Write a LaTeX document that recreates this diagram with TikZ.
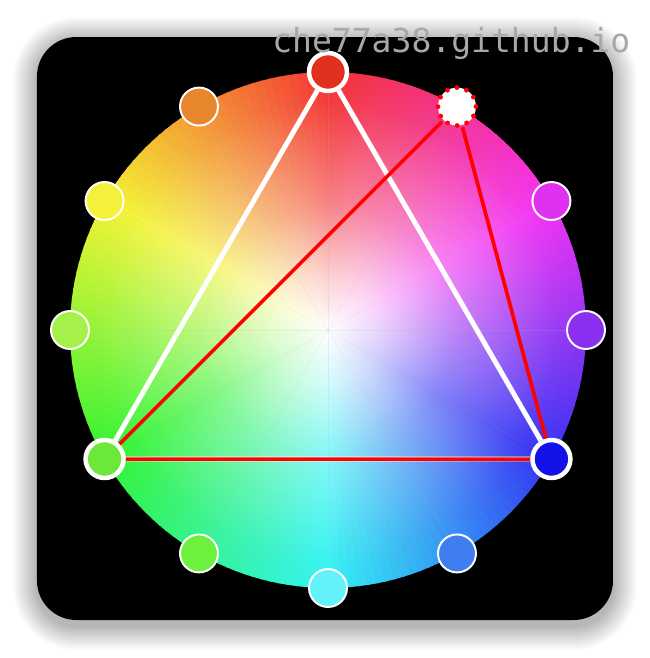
\documentclass[tikz,border=0pt]{standalone}
\usepackage{fontspec}
\usepackage{xcolor}
\usepackage{tikz}
\usetikzlibrary{fadings}
\newfontfamily\markfont{DejaVu Sans Mono}

\definecolor{cred}{HTML}{E0301E}
\definecolor{corange}{HTML}{E8862E}
\definecolor{cyellow}{HTML}{F5F03A}
\definecolor{cchart}{HTML}{A6F04A}
\definecolor{cgreen}{HTML}{6CE83A}
\definecolor{cspring}{HTML}{6EF03E}
\definecolor{ccyan}{HTML}{62F2F8}
\definecolor{cazure}{HTML}{3E7EF0}
\definecolor{cblue}{HTML}{1212E8}
\definecolor{cviolet}{HTML}{8A2EF0}
\definecolor{cmagenta}{HTML}{E030F0}
\definecolor{markgray}{HTML}{A8A8A8}

\pgfdeclareradialshading{whitecoreshade}{\pgfpointorigin}{color(0bp)=(white); color(5bp)=(white!80!black); color(12bp)=(white!45!black); color(22bp)=(white!12!black); color(30bp)=(black); color(50bp)=(black)}
\pgfdeclarefading{whitecore}{\pgfuseshading{whitecoreshade}}

\begin{document}
\begin{tikzpicture}[
        scale=0.025,
        swatch/.style={
            circle,
            draw=white,
            line width=1.4pt,
            minimum size=27pt,
            inner sep=0pt
        },
        keyswatch/.style={
            swatch,
            line width=3.2pt
        },
        picked/.style={
            circle,
            fill=white,
            draw=red,
            line width=3.4pt,
            line cap=round,
            dash pattern=on 0pt off 7.07pt,
            minimum size=27pt,
            inner sep=0pt
        },
        triad/.style={
            white,
            line width=3.5pt
        },
        pick/.style={
            red,
            line width=2.6pt
        }
    ]

    \useasboundingbox (-328,-328) rectangle (322,330);
    \fill[white] (-328,-328) rectangle (322,330);
    % soft shadow under the card
    \foreach \i in {1,...,24}
        \fill[black, opacity=0.011, rounded corners=28pt+\i*0.7pt]
            (-291-\i,-296-\i) rectangle (285+\i,289+\i);
    \fill[black, rounded corners=28pt] (-291,-290) rectangle (285,293);

    % hue wheel, red on top, running clockwise
    \foreach \a in {0,2,...,358} {
        \pgfmathsetmacro\hh{mod(\a+270,360)}
        \definecolor{wedge}{Hsb}{\hh,0.86,0.95}
        \fill[wedge] (0,0) -- ({\a-1.3}:258)
            arc[start angle=\a-1.3, end angle=\a+1.3, radius=258] -- cycle;
    }
    \fill[white, path fading=whitecore] (0,0) circle (258);
    \foreach \a in {0,30,...,330}
        \draw[black!30, opacity=0.18, line width=0.3pt] (0,0) -- (\a:258);

    \node[swatch, fill=corange] (orange) at (120:258) {};
    \node[swatch, fill=cyellow] (yellow) at (150:258) {};
    \node[swatch, fill=cchart] (chart) at (180:258) {};
    \node[swatch, fill=cspring] (spring) at (240:258) {};
    \node[swatch, fill=ccyan] (cyan) at (270:258) {};
    \node[swatch, fill=cazure] (azure) at (300:258) {};
    \node[swatch, fill=cviolet] (violet) at (0:258) {};
    \node[swatch, fill=cmagenta] (magenta) at (30:258) {};

    \node[keyswatch, fill=cred] (red) at (90:258) {};
    \node[keyswatch, fill=cgreen] (green) at (210:258) {};
    \node[keyswatch, fill=cblue] (blue) at (330:258) {};

    \draw[triad] (red) -- (green) -- (blue) -- (red);

    \node[picked] (rose) at (60:258) {};
    \draw[pick] (rose) -- (green);
    \draw[pick] (rose) -- (blue);
    \draw[pick] ([yshift=-4pt]green.east) -- ([yshift=-6pt]blue.west);

    \node[anchor=base west, inner sep=0pt, text=markgray,
        font=\markfont\fontsize{23.5pt}{26pt}\selectfont] (mark) at (-56,278) {che77a38.github.io};

\end{tikzpicture}
\end{document}
